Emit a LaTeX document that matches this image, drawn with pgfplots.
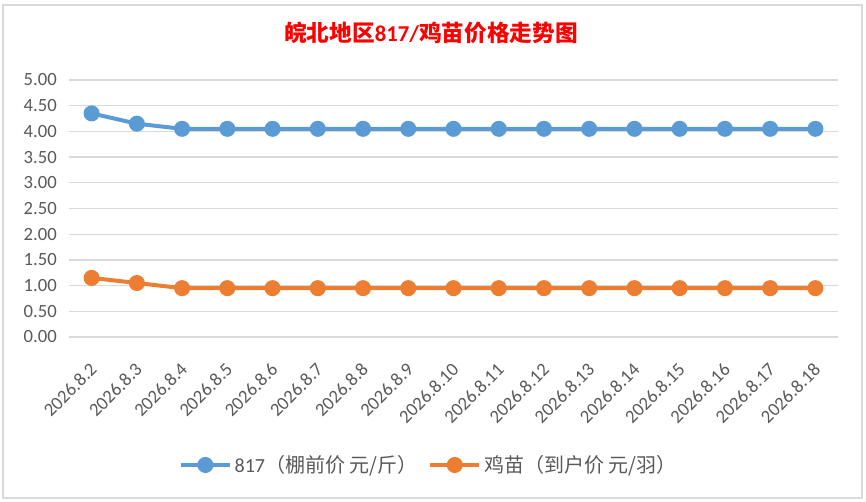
\documentclass[border=0pt]{standalone}
\usepackage{pgfplots}
\pgfplotsset{compat=1.18}
\usepackage{fontspec}
\setmainfont{Carlito}
\newfontfamily\cjk{Noto Sans CJK SC}
\definecolor{sblue}{HTML}{5B9BD5}
\definecolor{sorange}{HTML}{ED7D31}
\definecolor{ticktext}{HTML}{595959}
\definecolor{gridgray}{HTML}{D9D9D9}
\begin{document}
\begin{tikzpicture}
\useasboundingbox (0,0) rectangle (649.5pt,376.5pt);
\draw[gridgray, line width=1.2pt] (2.25pt,3pt) rectangle (646.5pt,372.75pt);
\node[text=red, font=\fontsize{17pt}{20pt}\selectfont, inner sep=0pt] at (323.25pt,351.75pt) {\cjk\bfseries 皖北地区{\normalfont\bfseries 817/}鸡苗价格走势图};
\begin{axis}[
  at={(51.75pt,123.75pt)}, anchor=south west,
  scale only axis, width=576.75pt, height=192.75pt,
  xmin=-0.5, xmax=16.5, ymin=0, ymax=5,
  ytick={0,0.5,...,5},
  xtick={0,...,16},
  xticklabels={2026.8.2,2026.8.3,2026.8.4,2026.8.5,2026.8.6,2026.8.7,2026.8.8,2026.8.9,2026.8.10,2026.8.11,2026.8.12,2026.8.13,2026.8.14,2026.8.15,2026.8.16,2026.8.17,2026.8.18},
  axis line style={draw=none},
  major tick length=0pt,
  ymajorgrids, xmajorgrids=false, grid style={draw=gridgray, line width=1pt},
  tick label style={font=\fontsize{14pt}{16pt}\selectfont, text=ticktext},
  /pgf/number format/assume math mode=true,
  yticklabel={\pgfmathprintnumber[fixed,fixed zerofill,precision=2]{\tick}},
  yticklabel style={anchor=east, inner sep=0pt, xshift=-9pt},
  xticklabel style={xshift=1.5pt, yshift=-22pt, rotate=45, anchor=east, inner sep=0pt},
  legend style={at={(0.468,-0.498)}, anchor=center, draw=none, legend columns=2,
    font=\fontsize{15pt}{17pt}\selectfont, text=ticktext,
    /tikz/every even column/.append style={column sep=6pt}},
  legend image code/.code={\draw[mark repeat=2,mark phase=2] plot coordinates {(0cm,0cm)(0.65cm,0cm)(1.3cm,0cm)};},
  clip=false,
]
\addplot[sblue, line width=3pt, mark=*, mark size=4.5pt] coordinates {
(0,4.35)(1,4.15)(2,4.05)(3,4.05)(4,4.05)(5,4.05)(6,4.05)(7,4.05)(8,4.05)(9,4.05)(10,4.05)(11,4.05)(12,4.05)(13,4.05)(14,4.05)(15,4.05)(16,4.05)};
\addlegendentry{817{\cjk（棚前价 元/斤）}}
\addplot[sorange, line width=3pt, mark=*, mark size=4.5pt] coordinates {
(0,1.15)(1,1.05)(2,0.95)(3,0.95)(4,0.95)(5,0.95)(6,0.95)(7,0.95)(8,0.95)(9,0.95)(10,0.95)(11,0.95)(12,0.95)(13,0.95)(14,0.95)(15,0.95)(16,0.95)};
\addlegendentry{{\cjk 鸡苗（到户价 元/羽）}}
\end{axis}
\end{tikzpicture}
\end{document}
